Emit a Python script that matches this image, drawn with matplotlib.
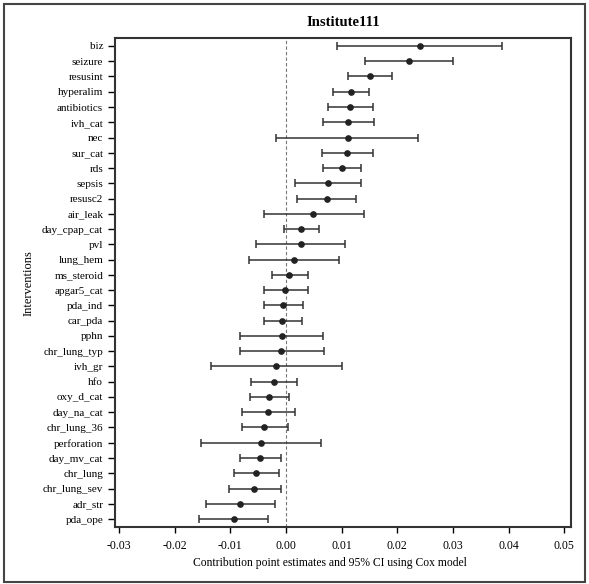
import matplotlib
matplotlib.use("Agg")
import matplotlib.pyplot as plt
from matplotlib.patches import Rectangle

# Cox model contribution estimates with 95% CI, one row per intervention
interventions = [
    "biz", "seizure", "resusint", "hyperalim", "antibiotics", "ivh_cat", "nec",
    "sur_cat", "rds", "sepsis", "resusc2", "air_leak", "day_cpap_cat", "pvl",
    "lung_hem", "ms_steroid", "apgar5_cat", "pda_ind", "car_pda", "pphn",
    "chr_lung_typ", "ivh_gr", "hfo", "oxy_d_cat", "day_na_cat", "chr_lung_36",
    "perforation", "day_mv_cat", "chr_lung", "chr_lung_sev", "adr_str", "pda_ope",
]
estimate = [
    0.0240, 0.0221, 0.0151, 0.0117, 0.0115, 0.0111, 0.0111,
    0.0110, 0.0100, 0.0076, 0.0073, 0.0049, 0.0027, 0.0027,
    0.0014, 0.0006, -0.0001, -0.0005, -0.0007, -0.0007,
    -0.0008, -0.0018, -0.0022, -0.0030, -0.0032, -0.0039,
    -0.0045, -0.0046, -0.0054, -0.0057, -0.0082, -0.0094,
]
lower = [
    0.0092, 0.0142, 0.0112, 0.0085, 0.0076, 0.0066, -0.0017,
    0.0064, 0.0066, 0.0017, 0.0020, -0.0039, -0.0003, -0.0054,
    -0.0066, -0.0025, -0.0040, -0.0040, -0.0040, -0.0083,
    -0.0083, -0.0135, -0.0063, -0.0064, -0.0079, -0.0079,
    -0.0152, -0.0082, -0.0094, -0.0103, -0.0143, -0.0156,
]
upper = [
    0.0388, 0.0300, 0.0191, 0.0150, 0.0156, 0.0158, 0.0238,
    0.0156, 0.0135, 0.0135, 0.0125, 0.0140, 0.0059, 0.0106,
    0.0095, 0.0039, 0.0039, 0.0030, 0.0029, 0.0067,
    0.0069, 0.0100, 0.0020, 0.0006, 0.0016, 0.0003,
    0.0063, -0.0009, -0.0012, -0.0009, -0.0019, -0.0032,
]
x_ticks = [-0.03, -0.02, -0.01, 0.00, 0.01, 0.02, 0.03, 0.04, 0.05]

plt.rcParams["font.family"] = ["Liberation Serif", "DejaVu Serif"]

fig = plt.figure(figsize=(5.89, 5.84), dpi=100)
ax = fig.add_axes([0.1952, 0.0976, 0.7742, 0.8373])

rows = list(range(len(interventions)))
err_lo = [e - l for e, l in zip(estimate, lower)]
err_hi = [u - e for e, u in zip(estimate, upper)]

ax.axvline(0, color="#777777", lw=0.8, ls=(0, (3, 2)), zorder=1)
ax.errorbar(estimate, rows, xerr=[err_lo, err_hi], fmt="o", color="#222222",
            ecolor="#333333", elinewidth=1.1, capsize=3, capthick=1.1,
            markersize=3.8, zorder=3)

ax.set_xlim(-0.0307, 0.0512)
ax.set_ylim(len(interventions) - 0.48, -0.52)
ax.set_yticks(rows)
ax.set_yticklabels(interventions, fontsize=8)
ax.set_xticks(x_ticks)
ax.set_xticklabels([f"{t:.2f}" for t in x_ticks], fontsize=8.5)
ax.tick_params(axis="y", direction="out", length=5, width=1)
ax.tick_params(axis="x", direction="out", length=4, width=1, pad=5)
for sp in ax.spines.values():
    sp.set_linewidth(1.5)
    sp.set_color("#333333")

fig.text(0.582, 0.962, "Institute111", ha="center", va="center",
         fontsize=10.5, fontweight="bold")
fig.text(0.561, 0.036, "Contribution point estimates and 95% CI using Cox model",
         ha="center", va="center", fontsize=8.4)
fig.text(0.048, 0.515, "Interventions", ha="center", va="center",
         rotation=90, fontsize=9)

# outer frame around the whole graphic
fig.patches.append(Rectangle((0.006, 0.004), 0.988, 0.99, transform=fig.transFigure,
                             fill=False, lw=1.5, ec="#444444"))

fig.savefig("out.png", dpi=100)
